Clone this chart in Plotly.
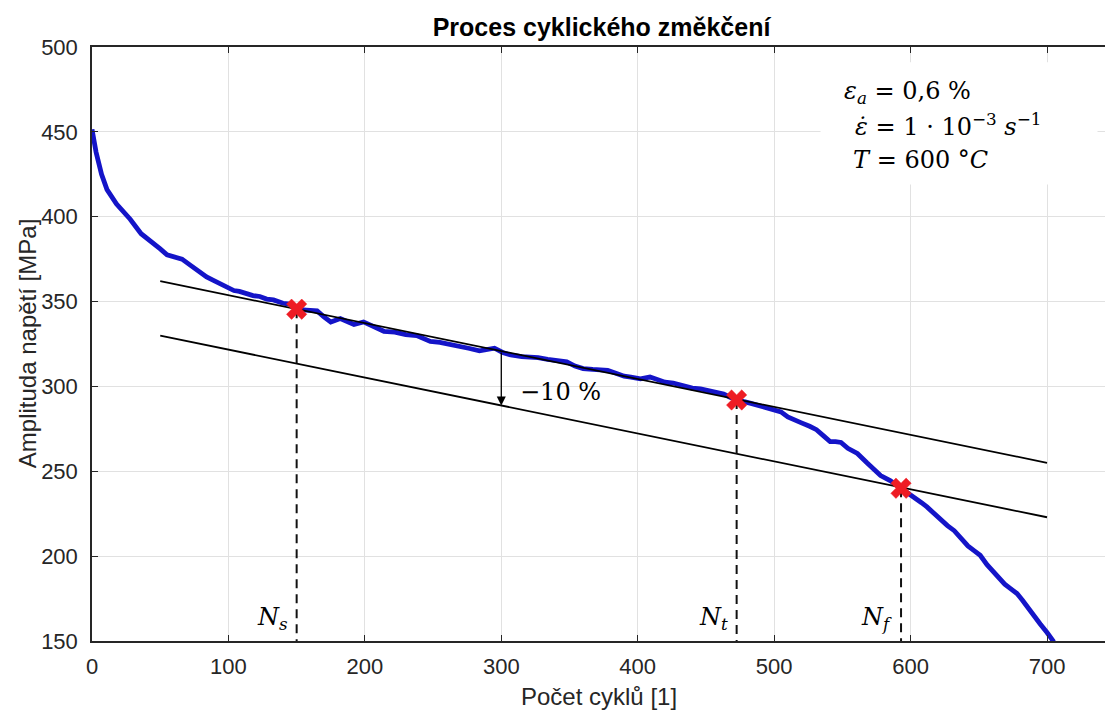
import plotly.graph_objects as go

# Stress amplitude record over the fatigue test
cycles = [0, 3, 7, 11, 18, 28, 36, 42, 50, 55, 60, 66, 72, 79, 84, 89, 95, 99,
          104, 108, 113, 118, 123, 128, 133, 137, 140, 145, 150, 157, 165, 170,
          175, 182, 187, 192, 199, 205, 214, 222, 230, 238, 243, 248, 255, 262,
          268, 276, 284, 290, 295, 301, 307, 315, 322, 327, 334, 341, 348, 354,
          360, 367, 373, 378, 385, 390, 395, 402, 409, 415, 420, 426, 433, 440,
          446, 451, 457, 463, 468, 473, 478, 483, 488, 493, 499, 505, 510, 515,
          520, 526, 531, 536, 541, 545, 549, 554, 561, 568, 573, 578, 585, 593,
          598, 603, 608, 612, 617, 622, 627, 632, 637, 642, 647, 651, 656, 661,
          665, 669, 673, 678, 682, 686, 691, 695, 700, 705]
stress = [451.5, 438, 425, 416, 407.5, 398.5, 390, 386.5, 381, 377.5, 376.5,
          375, 371.5, 367, 364.5, 362.5, 360, 358.5, 356.5, 356, 354.5, 353.5,
          353, 351.5, 351, 349.5, 349, 348.5, 345.5, 345, 344.5, 341, 338, 340,
          338.5, 336.5, 338, 335.5, 332.5, 332, 330.5, 330, 328, 326.5, 326,
          325, 323.5, 322.5, 321, 322, 322.5, 320, 318.5, 317.5, 317.5, 317,
          316, 315, 314.5, 312, 310.5, 310, 309.5, 309.5, 307.5, 306, 305.5,
          304.5, 305.5, 303.5, 302.5, 302, 300.5, 299, 298.5, 297.5, 296.5,
          295.5, 293.5, 292, 291, 290, 289, 287.5, 286.5, 285, 282, 280, 278.5,
          276.5, 274.5, 271, 267.5, 267.5, 267, 263.5, 260.5, 255, 251, 247.5,
          244.5, 240, 237.5, 235, 231.5, 229, 225, 221, 218, 215, 210, 206, 203,
          200.5, 195, 190.5, 187, 183.5, 181, 178, 174, 169.5, 164.5, 160, 155,
          149.5]

# Linear trend of the stabilised part and its 10 % reduced copy
trend_x = [50, 700]
trend_upper = [362.0, 255.0]
drop_pct = 10
ref_cycle = 300

# Characteristic points
point_labels = ["<i>N</i><sub><i>s</i></sub>", "<i>N</i><sub><i>t</i></sub>",
                "<i>N</i><sub><i>f</i></sub>"]
point_x = [150, 472.5, 593]
point_y = [345.5, 292, 240]

x_ticks = [0, 100, 200, 300, 400, 500, 600, 700]
y_ticks = [150, 200, 250, 300, 350, 400, 450, 500]

y_min, y_max = 150, 500

slope = (trend_upper[1] - trend_upper[0]) / (trend_x[1] - trend_x[0])
ref_val = trend_upper[0] + slope * (ref_cycle - trend_x[0])
shift = ref_val * drop_pct / 100
trend_lower = [v - shift for v in trend_upper]

SANS = "Liberation Sans, Arial, sans-serif"
SERIF = "DejaVu Serif, serif"
INK = "#262626"
MATH_SIZE = 24

fig = go.Figure()

fig.add_trace(go.Scatter(x=cycles, y=stress, mode="lines",
                         line=dict(color="#1414c8", width=4.8),
                         hoverinfo="skip"))
fig.add_trace(go.Scatter(x=trend_x, y=trend_upper, mode="lines",
                         line=dict(color="black", width=1.8)))
fig.add_trace(go.Scatter(x=trend_x, y=trend_lower, mode="lines",
                         line=dict(color="black", width=1.8)))

for px, py in zip(point_x, point_y):
    fig.add_trace(go.Scatter(x=[px, px], y=[py, y_min], mode="lines",
                             line=dict(color="#111111", width=2,
                                       dash="9px,6px")))

fig.add_trace(go.Scatter(x=point_x, y=point_y, mode="markers",
                         marker=dict(symbol="x", size=18, color="#ee1c24",
                                     line=dict(color="#ee1c24", width=0.5))))

annotations = []
for lbl, px in zip(point_labels, point_x):
    annotations.append(dict(x=px, y=163, xref="x", yref="y", text=lbl,
                            showarrow=False, xanchor="right", xshift=-7,
                            yanchor="middle",
                            font=dict(family=SERIF, size=MATH_SIZE,
                                      color="black")))

# Arrow marking the 10 % drop
annotations.append(dict(x=ref_cycle, y=ref_val - shift, ax=ref_cycle, ay=ref_val,
                        xref="x", yref="y", axref="x", ayref="y", text="",
                        showarrow=True, arrowhead=2, arrowsize=1.4,
                        arrowwidth=1.3, arrowcolor="black"))
annotations.append(dict(x=312, y=296.6, xref="x", yref="y",
                        text="\u2212" + "10 %", showarrow=False,
                        xanchor="left", yanchor="middle",
                        font=dict(family=SERIF, size=MATH_SIZE, color="black")))

# Test conditions (strain rate written with a combining dot above)
cond_lines = [
    ("<i>\u03b5</i><sub><i>a</i></sub> = 0,6 %", 550, 473),
    ("<i>\u03b5\u0307</i> = 1 \u00b7 10<sup>\u22123</sup> <i>s</i><sup>\u22121</sup>", 558, 454),
    ("<i>T</i> = 600 \u00b0<i>C</i>", 556, 433.5),
]
for txt, cx, cy in cond_lines:
    annotations.append(dict(x=cx, y=cy, xref="x", yref="y", text=txt,
                            showarrow=False, xanchor="left", yanchor="middle",
                            font=dict(family=SERIF, size=MATH_SIZE,
                                      color="black")))

# Axis titles
annotations.append(dict(x=0.5, y=-0.094, xref="paper", yref="paper",
                        text="Počet cyklů [1]", showarrow=False,
                        xanchor="center", yanchor="middle",
                        font=dict(family=SANS, size=24, color=INK)))
annotations.append(dict(x=-0.064, y=0.5, xref="paper", yref="paper",
                        text="Amplituda napětí [MPa]", showarrow=False,
                        textangle=-90, xanchor="center", yanchor="middle",
                        font=dict(family=SANS, size=24, color=INK)))

shapes = [dict(type="rect", xref="x", yref="y", x0=534, x1=737, y0=419, y1=491,
               fillcolor="white", line=dict(width=0), layer="above")]

fig.update_layout(
    width=1105, height=713,
    margin=dict(l=92, r=0, t=47, b=72),
    paper_bgcolor="white", plot_bgcolor="white",
    showlegend=False,
    title=dict(text="<b>Proces cyklického změkčení</b>", x=0.503, xref="paper",
               xanchor="center", y=1 - 27 / 713, yref="container",
               yanchor="middle",
               font=dict(family=SANS, size=25, color="black")),
    annotations=annotations,
    shapes=shapes,
)

fig.update_xaxes(range=[0, 742.5], tickvals=x_ticks, showgrid=True,
                 gridcolor="#e1e1e1", gridwidth=1, zeroline=False,
                 showline=True, linecolor=INK, linewidth=1.5, mirror="ticks",
                 ticks="inside", ticklen=6, tickcolor=INK, tickwidth=1.2,
                 ticklabelstandoff=5,
                 tickfont=dict(family=SANS, size=22, color=INK))
fig.update_yaxes(range=[y_min, y_max], tickvals=y_ticks, showgrid=True,
                 gridcolor="#e1e1e1", gridwidth=1, zeroline=False,
                 showline=True, linecolor=INK, linewidth=1.5, mirror=False,
                 ticks="inside", ticklen=6, tickcolor=INK, tickwidth=1.2,
                 ticklabelstandoff=8,
                 tickfont=dict(family=SANS, size=22, color=INK))

fig.write_html("out.html")
